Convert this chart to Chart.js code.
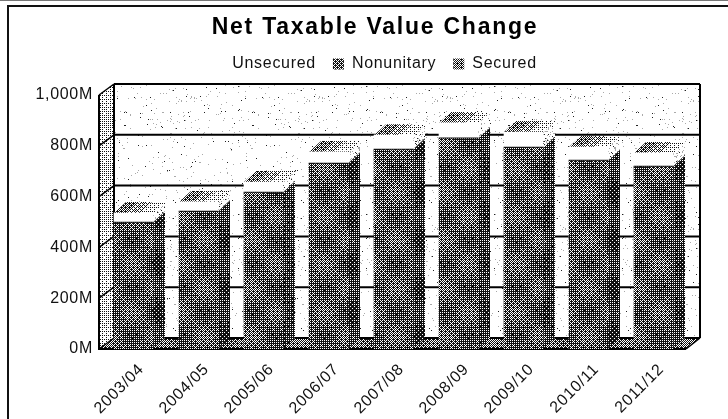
<!DOCTYPE html>
<html>
<head>
<meta charset="utf-8">
<title>Net Taxable Value Change</title>
<script src="https://cdn.jsdelivr.net/npm/chart.js@4/dist/chart.umd.min.js"></script>
<style>
  html, body { margin: 0; padding: 0; background: #fff; }
  canvas { display: block; }
</style>
</head>
<body>
<canvas id="chart" width="728" height="419"></canvas>
<script>
const years = ["2003/04", "2004/05", "2005/06", "2006/07", "2007/08", "2008/09", "2009/10", "2010/11", "2011/12"];
const secured = [496, 539, 614, 728, 783, 827, 791, 740, 716];
const nonunitary = [4, 4, 4, 4, 4, 4, 4, 4, 4];
const unsecured = [35, 36, 39, 44, 55, 59, 59, 51, 52];

const depthX = 12, depthY = 11;     // bar depth
const wallX = 13, wallY = 11;       // floor depth behind the axis plane

const bayer = [
  [0, 32, 8, 40, 2, 34, 10, 42],
  [48, 16, 56, 24, 50, 18, 58, 26],
  [12, 44, 4, 36, 14, 46, 6, 38],
  [60, 28, 52, 20, 62, 30, 54, 22],
  [3, 35, 11, 43, 1, 33, 9, 41],
  [51, 19, 59, 27, 49, 17, 57, 25],
  [15, 47, 7, 39, 13, 45, 5, 37],
  [63, 31, 55, 23, 61, 29, 53, 21]
];

// ordered dither tile, level is the share of white pixels
function dither(level, swing) {
  const size = 48;
  const tile = document.createElement("canvas");
  tile.width = tile.height = size;
  const t = tile.getContext("2d");
  t.fillStyle = "#fff";
  t.fillRect(0, 0, size, size);
  t.fillStyle = "#111";
  for (let y = 0; y < size; y++) {
    for (let x = 0; x < size; x++) {
      const l = level + swing * Math.sin(x / 7.6) * Math.cos(y / 7.6);
      if ((bayer[y % 8][x % 8] + 0.5) / 64 > l) t.fillRect(x, y, 1, 1);
    }
  }
  return t.createPattern(tile, "repeat");
}

// scattered dots for the pale surfaces
function speckle(count) {
  const size = 128;
  const tile = document.createElement("canvas");
  tile.width = tile.height = size;
  const t = tile.getContext("2d");
  t.fillStyle = "#fff";
  t.fillRect(0, 0, size, size);
  const scatter = n => {
    const v = Math.sin(n) * 43758.5453;
    return Math.floor((v - Math.floor(v)) * size);
  };
  for (let i = 0; i < count; i++) {
    t.fillStyle = i % 4 ? "#aaa" : "#222";
    t.fillRect(scatter(i * 12.9898), scatter(i * 78.233 + 1), 1, 1);
  }
  return t.createPattern(tile, "repeat");
}

const fills = {
  front: dither(0.33, 0.12),
  side: dither(0.2, 0.08),
  topDark: dither(0.42, 0),
  topMid: dither(0.6, 0),
  topPale: dither(0.82, 0),
  floor: dither(0.42, 0.1),
  wall: speckle(360),
  leftWall: dither(0.78, 0.04),
  whiteSide: speckle(2600),
  swatch: dither(0.38, 0),
  swatch2: dither(0.46, 0)
};

function poly(ctx, pts, fill) {
  ctx.beginPath();
  pts.forEach((p, i) => (i ? ctx.lineTo(p[0], p[1]) : ctx.moveTo(p[0], p[1])));
  ctx.closePath();
  if (fill) {
    ctx.fillStyle = fill;
    ctx.fill();
  }
}

function line(ctx, x0, y0, x1, y1, width) {
  ctx.lineWidth = width;
  ctx.strokeStyle = "#000";
  ctx.beginPath();
  ctx.moveTo(x0, y0);
  ctx.lineTo(x1, y1);
  ctx.stroke();
}

// tracking on the text, plus the room the header needs above the plot
const header = {
  id: "header",
  beforeUpdate(chart) {
    chart.ctx.letterSpacing = "0.7px";
  },
  beforeLayout(chart) {
    const legend = chart.legend;
    if (!legend.padded) {
      const fit = legend.fit;
      legend.fit = function () {
        fit.call(this);
        this.height += 13;
      };
      legend.padded = true;
    }
  },
  afterLayout(chart) {
    // tick labels are clipped to the axis box, so open it up to the canvas edge
    chart.scales.y.left = 0;
  },
  beforeDraw(chart) {
    const block = chart.titleBlock;
    if (!block.spaced) {
      const draw = block.draw;
      block.draw = function () {
        chart.ctx.letterSpacing = "1.75px";
        draw.call(this);
        chart.ctx.letterSpacing = "0.7px";
      };
      block.spaced = true;
    }
  }
};

const page = {
  id: "page",
  beforeDraw(chart) {
    const ctx = chart.ctx;
    ctx.save();
    ctx.fillStyle = "#fff";
    ctx.fillRect(0, 0, 728, 419);
    ctx.fillStyle = "#777";
    ctx.fillRect(0, 0, 728, 1);
    ctx.fillStyle = "#111";
    ctx.fillRect(7, 5, 721, 2);
    ctx.fillRect(7, 5, 2, 414);
    ctx.restore();
  }
};

// back wall, side wall and floor sit behind the bars
const room = {
  id: "room",
  beforeDatasetsDraw(chart) {
    const ctx = chart.ctx;
    const { left, right, top, bottom } = chart.chartArea;
    const y = chart.scales.y;
    const l = left - 2;
    const wl = left + wallX, wr = right + wallX + 1, wt = top - wallY, wb = bottom - wallY;
    ctx.save();
    poly(ctx, [[wl, wt], [wr, wt], [wr, wb], [wl, wb]], fills.wall);
    poly(ctx, [[l, top], [wl, wt], [wl, wb], [l, bottom]], fills.leftWall);
    poly(ctx, [[l, bottom], [wl, wb], [wr, wb], [right, bottom]], fills.floor);
    y.ticks.forEach(t => {
      const py = y.getPixelForValue(t.value);
      line(ctx, l, py, wl, py - wallY, 1.5);
      line(ctx, wl, py - wallY, wr, py - wallY, 2);
    });
    line(ctx, wl, wt, wl, wb, 2);
    line(ctx, wr, wt, wr, wb, 2);
    line(ctx, wr, wb, right, bottom, 1.5);
    line(ctx, l, top, l, bottom + 1, 2);
    line(ctx, l, bottom, right, bottom, 2);
    ctx.restore();
  }
};

// depth faces of each stacked bar, read from the bar elements
const barDepth = {
  id: "barDepth",
  beforeDatasetsDraw(chart) {
    const ctx = chart.ctx;
    const metas = chart.getSortedVisibleDatasetMetas();
    const shades = [fills.topDark, fills.topMid, fills.topPale];
    ctx.save();
    metas[0].data.forEach((_, i) => {
      metas.forEach((meta, d) => {
        const bar = meta.data[i];
        const xr = bar.x + bar.width / 2;
        poly(ctx, [
          [xr, bar.y], [xr + depthX, bar.y - depthY],
          [xr + depthX, bar.base - depthY], [xr, bar.base]
        ], d === 2 ? fills.whiteSide : fills.side);
      });
      // lid shades from dark to pale towards the right
      const head = metas[2].data[i];
      const xl = head.x - head.width / 2;
      const part = head.width / shades.length;
      shades.forEach((shade, s) => {
        const a = xl + part * s, b = a + part;
        poly(ctx, [
          [a, head.y], [a + depthX, head.y - depthY],
          [b + depthX + 0.5, head.y - depthY], [b + 0.5, head.y]
        ], shade);
      });
    });
    ctx.restore();
  }
};

new Chart(document.getElementById("chart"), {
  type: "bar",
  data: {
    labels: years,
    datasets: [
      { label: "Secured", data: secured, backgroundColor: fills.front, legendFill: fills.swatch2 },
      { label: "Nonunitary", data: nonunitary, backgroundColor: "#111", legendFill: fills.swatch },
      { label: "Unsecured", data: unsecured, backgroundColor: "#fff", legendFill: "#fff" }
    ]
  },
  plugins: [header, page, room, barDepth],
  options: {
    responsive: false,
    animation: false,
    layout: { padding: { left: 64, right: 42, top: 16, bottom: 0 } },
    datasets: { bar: { barThickness: 39, borderWidth: 0 } },
    scales: {
      x: {
        stacked: true,
        grid: { display: false },
        border: { display: false },
        afterFit(scale) { scale.height = 70; },
        ticks: {
          color: "#111",
          font: { family: "Liberation Sans", size: 16 },
          minRotation: 45,
          maxRotation: 45,
          labelOffset: 8,
          padding: 3
        }
      },
      y: {
        stacked: true,
        min: 0,
        max: 1000,
        grid: { display: false },
        border: { display: false },
        afterFit(scale) { scale.width = 37; },
        ticks: {
          color: "#111",
          stepSize: 200,
          padding: 0,
          font: { family: "Liberation Sans", size: 16 },
          callback: v => (v === 1000 ? "1,000M" : v + "M")
        }
      }
    },
    plugins: {
      title: {
        display: true,
        text: "Net Taxable Value Change",
        color: "#000",
        font: { family: "Liberation Sans", size: 23, weight: "bold", lineHeight: 1 },
        padding: 0
      },
      legend: {
        reverse: true,
        labels: {
          color: "#111",
          font: { family: "Liberation Sans", size: 16 },
          boxWidth: 11,
          boxHeight: 11,
          padding: 17,
          generateLabels(chart) {
            return chart.data.datasets.map((ds, i) => ({
              text: ds.label,
              fillStyle: ds.legendFill,
              strokeStyle: "#fff",
              lineWidth: 0,
              datasetIndex: i,
              fontColor: "#111"
            }));
          }
        }
      },
      tooltip: { enabled: false }
    }
  }
});
</script>
</body>
</html>
